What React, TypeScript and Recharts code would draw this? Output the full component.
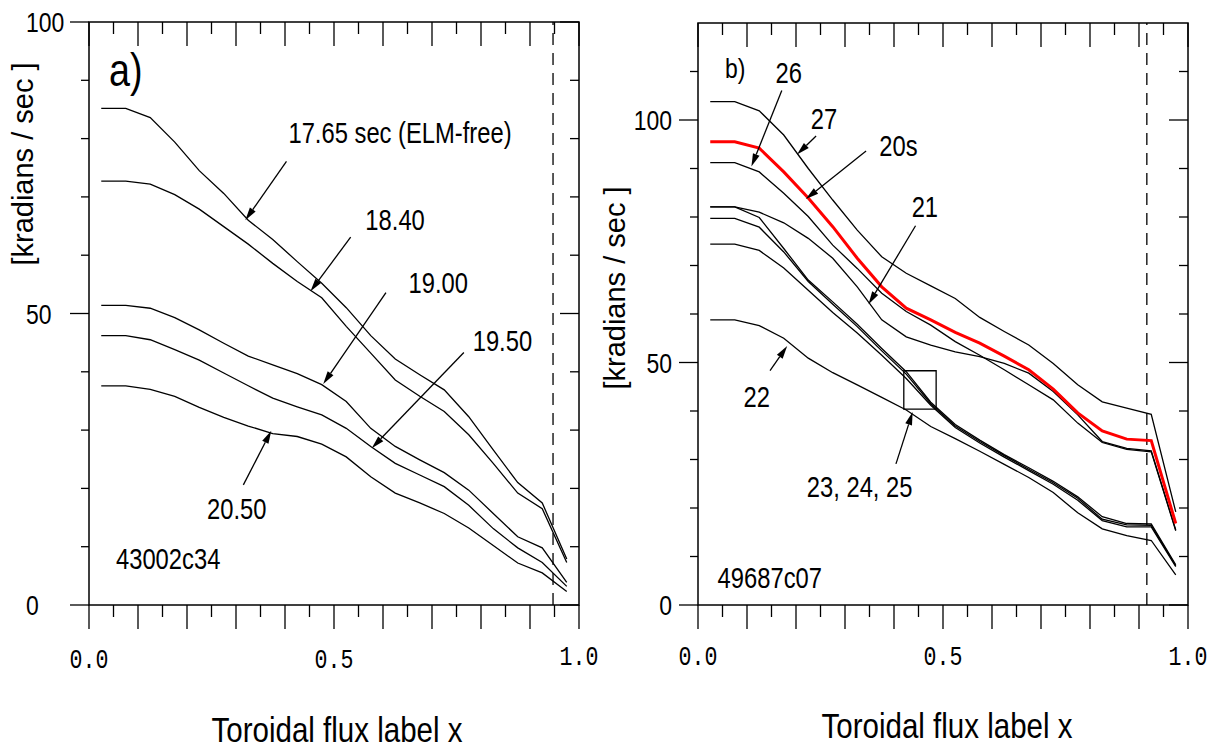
import { LineChart, Line, XAxis, YAxis, ReferenceLine, ReferenceDot, ReferenceArea } from 'recharts'

// toroidal flux label of the profile points
const fluxX = [0.025, 0.075, 0.125, 0.175, 0.225, 0.275, 0.325, 0.375, 0.425, 0.475, 0.525, 0.575, 0.625, 0.675, 0.725, 0.775, 0.825, 0.875, 0.925, 0.975]

// a) shot 43002, rotation in krad/s
const t1765 = [85.2, 85.2, 83.6, 79.4, 74.5, 70.6, 66.0, 62.7, 58.9, 55.2, 51.0, 46.2, 42.2, 39.5, 36.9, 32.3, 26.6, 21.0, 17.5, 7.9]
const t1840 = [72.7, 72.7, 72.2, 70.4, 67.9, 64.9, 61.9, 58.6, 55.5, 52.7, 47.8, 43.2, 38.6, 35.8, 33.2, 29.2, 24.3, 19.2, 16.5, 7.3]
const t1900 = [51.4, 51.4, 50.9, 49.3, 47.2, 44.9, 42.7, 41.2, 39.7, 37.8, 34.9, 30.3, 27.2, 24.9, 22.7, 19.7, 15.7, 11.7, 9.8, 3.9]
const t1950 = [46.2, 46.2, 45.5, 43.8, 42.0, 39.8, 37.6, 35.5, 34.0, 32.6, 30.3, 27.2, 24.3, 22.3, 20.3, 17.1, 13.1, 9.8, 7.3, 3.2]
const t2050 = [37.6, 37.6, 37.0, 35.8, 33.9, 32.2, 30.7, 29.4, 28.9, 27.6, 25.4, 22.0, 19.2, 17.5, 15.7, 13.2, 10.2, 7.2, 5.5, 2.3]

// b) shot 49687
const s27 = [103.8, 103.8, 101.9, 96.9, 90.0, 83.5, 77.3, 71.8, 68.4, 65.8, 63.2, 59.3, 56.4, 53.6, 49.8, 45.4, 41.9, 40.6, 39.3, 19.2]
const s20 = [95.5, 95.5, 94.2, 89.3, 83.9, 78.0, 71.5, 65.6, 61.2, 58.8, 56.2, 54.0, 51.3, 48.5, 44.5, 39.6, 35.9, 34.2, 33.9, 16.8]
const s26 = [91.2, 91.2, 89.3, 84.9, 80.1, 74.2, 69.4, 64.3, 60.5, 57.7, 54.3, 51.5, 48.5, 45.4, 42.3, 37.5, 33.5, 32.1, 31.6, 15.3]
const s21 = [82.1, 82.1, 81.0, 78.8, 75.6, 71.5, 65.6, 58.8, 55.3, 53.6, 52.2, 51.2, 49.8, 47.8, 44.0, 39.2, 33.7, 32.3, 31.8, 15.5]
const s23 = [82.1, 82.1, 79.9, 73.5, 67.0, 62.5, 57.9, 52.9, 48.1, 41.8, 37.2, 34.0, 31.0, 28.3, 25.5, 22.3, 18.2, 16.8, 16.7, 8.3]
const s24 = [79.7, 79.7, 77.9, 72.8, 66.7, 62.0, 57.4, 52.4, 47.6, 41.5, 36.9, 33.7, 30.8, 28.0, 25.2, 22.0, 17.7, 16.5, 16.4, 8.1]
const s25 = [74.4, 74.4, 73.1, 69.5, 64.9, 60.3, 56.1, 51.5, 46.7, 41.2, 36.6, 33.4, 30.5, 27.7, 24.9, 21.6, 17.4, 16.1, 16.1, 7.9]
const s22 = [58.8, 58.8, 57.6, 55.0, 50.9, 47.9, 45.4, 42.8, 40.2, 36.8, 34.3, 31.7, 29.0, 26.3, 23.2, 19.0, 15.7, 14.3, 13.3, 6.2]

const xTicks = [0, 0.05, 0.1, 0.15, 0.2, 0.25, 0.3, 0.35, 0.4, 0.45, 0.5, 0.55, 0.6, 0.65, 0.7, 0.75, 0.8, 0.85, 0.9, 0.95, 1]
const xLabels = [0, 0.5, 1]
const yTicksA = [0, 10, 20, 30, 40, 50, 60, 70, 80, 90, 100]
const yTicksB = [0, 10, 20, 30, 40, 50, 60, 70, 80, 90, 100, 110]
const yLabels = [0, 50, 100]

const edgeA = 0.947
const edgeB = 0.916

const rowsA = fluxX.map((x, i) => ({ x, t1765: t1765[i], t1840: t1840[i], t1900: t1900[i], t1950: t1950[i], t2050: t2050[i] }))
const rowsB = fluxX.map((x, i) => ({ x, s27: s27[i], s20: s20[i], s26: s26[i], s21: s21[i], s23: s23[i], s24: s24[i], s25: s25[i], s22: s22[i] }))

// annotations, in data units
const notesA = [
  { text: 'a)', x: 0.041, y: 89.0, size: 46 },
  { text: '17.65 sec (ELM-free)', x: 0.407, y: 79.2 },
  { text: '18.40', x: 0.564, y: 64.4 },
  { text: '19.00', x: 0.652, y: 53.5 },
  { text: '19.50', x: 0.783, y: 43.5 },
  { text: '20.50', x: 0.241, y: 14.8 },
  { text: '43002c34', x: 0.055, y: 6.2 },
]
const arrowsA = [
  [0.403, 76.1, 0.319, 66.0],
  [0.534, 63.1, 0.452, 53.8],
  [0.606, 53.6, 0.478, 37.9],
  [0.765, 43.3, 0.577, 26.9],
  [0.315, 20.6, 0.372, 29.9],
]
const notesB = [
  { text: 'b)', x: 0.055, y: 108.7, size: 28 },
  { text: '26', x: 0.158, y: 107.7 },
  { text: '27', x: 0.23, y: 98.1 },
  { text: '20s', x: 0.37, y: 92.6 },
  { text: '21', x: 0.436, y: 79.9 },
  { text: '22', x: 0.093, y: 40.8 },
  { text: '23, 24, 25', x: 0.222, y: 22.2 },
  { text: '49687c07', x: 0.04, y: 3.6 },
]
const arrowsB = [
  [0.171, 106.1, 0.109, 90.4],
  [0.241, 96.7, 0.202, 92.9],
  [0.343, 93.6, 0.22, 83.7],
  [0.444, 78.2, 0.348, 62.0],
  [0.147, 48.3, 0.182, 53.4],
  [0.404, 29.1, 0.438, 39.8],
]

const SANS = "'Liberation Sans', Arial, sans-serif"
const MONO = "'Liberation Mono', 'Courier New', monospace"
const INK = '#000'

// Arial Narrow is not installed, so squeeze Liberation Sans
function NText(props: { x: number; y: number; size: number; anchor?: string; dy?: string; children: any }) {
  const { x, y, size, anchor = 'start', dy, children } = props
  return (
    <text transform={`translate(${x},${y}) scale(0.82,1)`} x={0} y={0} dy={dy} textAnchor={anchor} fontFamily={SANS} fontSize={size} fill={INK}>
      {children}
    </text>
  )
}

const near = (a: number, b: number) => Math.abs(a - b) < 1e-6
const isTenth = (v: number) => Math.round(v * 100) % 10 === 0

// vertical reference line -> tick at bottom (outward) and top (inward), plus label
function xTickShape(v: number, lowDy: number) {
  return (p: any) => {
    const x = p.x1
    const top = Math.min(p.y1, p.y2)
    const bot = Math.max(p.y1, p.y2)
    const len = isTenth(v) ? 24 : 12
    const show = xLabels.some((l) => near(l, v))
    const dy = v < 0.99 ? lowDy : 60
    return (
      <g>
        <line x1={x} y1={bot} x2={x} y2={bot + len} stroke={INK} strokeWidth={1.3} />
        <line x1={x} y1={top} x2={x} y2={top + len} stroke={INK} strokeWidth={1.3} />
        {show && (
          <text transform={`translate(${x},${bot + dy}) scale(0.9,1.12)`} textAnchor="middle" fontFamily={MONO} fontSize={24} fill={INK}>
            {v.toFixed(1)}
          </text>
        )}
      </g>
    )
  }
}

// horizontal reference line -> tick at left (outward) and right (inward), plus label
function yTickShape(v: number, labelX: number, anchor: string) {
  return (p: any) => {
    const y = p.y1
    const left = Math.min(p.x1, p.x2)
    const right = Math.max(p.x1, p.x2)
    const major = yLabels.includes(v)
    return (
      <g>
        <line x1={left - (major ? 19 : 8)} y1={y} x2={left} y2={y} stroke={INK} strokeWidth={1.3} />
        <line x1={right - (major ? 19 : 9)} y1={y} x2={right} y2={y} stroke={INK} strokeWidth={1.3} />
        {major && (
          <NText x={labelX} y={y} dy="0.36em" size={28} anchor={anchor}>
            {v}
          </NText>
        )}
      </g>
    )
  }
}

// plot box with the two axis titles
function boxShape(titleX: number, titleY: number, yCx: number, yCy: number) {
  return (p: any) => (
    <g>
      <rect x={p.x} y={p.y} width={p.width} height={p.height} fill="none" stroke={INK} strokeWidth={1.5} />
      <NText x={titleX} y={titleY} size={36} anchor="middle">
        Toroidal flux label x
      </NText>
      <text x={yCx} y={yCy} transform={`rotate(-90, ${yCx}, ${yCy})`} textAnchor="middle" dominantBaseline="central" fontFamily={SANS} fontSize={29} fill={INK}>
        [kradians / sec ]
      </text>
    </g>
  )
}

function Arrow(p: any) {
  const { x1, y1, x2, y2 } = p
  const dx = x2 - x1
  const dy = y2 - y1
  const len = Math.hypot(dx, dy) || 1
  const ux = dx / len
  const uy = dy / len
  const hl = 13
  const hw = 3.5
  const bx = x2 - ux * hl
  const by = y2 - uy * hl
  return (
    <g>
      <line x1={x1} y1={y1} x2={bx} y2={by} stroke={INK} strokeWidth={1.3} />
      <polygon points={`${x2},${y2} ${bx - uy * hw},${by + ux * hw} ${bx + uy * hw},${by - ux * hw}`} fill={INK} />
    </g>
  )
}

function frame(maxY: number, yTicks: number[], labelX: number, anchor: string, lowDy: number, titleX: number, titleY: number, yCx: number, yCy: number) {
  return [
    <XAxis key="xa" dataKey="x" type="number" domain={[0, 1]} allowDataOverflow hide />,
    <YAxis key="ya" type="number" domain={[0, maxY]} allowDataOverflow hide />,
    <ReferenceArea key="box" x1={0} x2={1} y1={0} y2={maxY} ifOverflow="visible" shape={boxShape(titleX, titleY, yCx, yCy)} />,
    ...xTicks.map((v) => <ReferenceLine key={'x' + v} x={v} ifOverflow="visible" shape={xTickShape(v, lowDy)} />),
    ...yTicks.map((v) => <ReferenceLine key={'y' + v} y={v} ifOverflow="visible" shape={yTickShape(v, labelX, anchor)} />),
  ]
}

function notes(list: { text: string; x: number; y: number; size?: number }[]) {
  return list.map((n) => (
    <ReferenceDot
      key={n.text}
      x={n.x}
      y={n.y}
      r={1}
      shape={(p: any) => (
        <NText x={p.cx} y={p.cy} size={n.size ?? 29}>
          {n.text}
        </NText>
      )}
    />
  ))
}

function arrows(list: number[][]) {
  return list.map((a, i) => <ReferenceLine key={'ar' + i} segment={[{ x: a[0], y: a[1] }, { x: a[2], y: a[3] }]} shape={Arrow} />)
}

export default function App() {
  const ln = { type: 'linear' as const, dot: false, stroke: INK, strokeWidth: 1.3, isAnimationActive: false }
  return (
    <div style={{ position: 'absolute', left: 0, top: 0, width: 1219, height: 753, background: '#fff' }}>
      <div style={{ position: 'absolute', left: 0, top: 0 }}>
        <LineChart width={612} height={753} data={rowsA} margin={{ top: 22, right: 33, bottom: 148, left: 89 }}>
          {frame(100, yTicksA, 26, 'start', 63, 337, 742, 23, 164)}
          <ReferenceLine x={edgeA} stroke={INK} strokeWidth={1.3} strokeDasharray="12 8" />
          <Line {...ln} dataKey="t1765" />
          <Line {...ln} dataKey="t1840" />
          <Line {...ln} dataKey="t1900" />
          <Line {...ln} dataKey="t1950" />
          <Line {...ln} dataKey="t2050" />
          {arrows(arrowsA)}
          {notes(notesA)}
        </LineChart>
      </div>
      <div style={{ position: 'absolute', left: 595, top: 0 }}>
        <LineChart width={624} height={753} data={rowsB} margin={{ top: 23, right: 31, bottom: 148, left: 103 }}>
          {frame(120, yTicksB, 77, 'end', 60, 352, 738, 20, 288)}
          <ReferenceLine x={edgeB} stroke={INK} strokeWidth={1.3} strokeDasharray="12 8" />
          <Line {...ln} dataKey="s27" />
          <Line {...ln} dataKey="s26" />
          <Line {...ln} dataKey="s21" />
          <Line {...ln} dataKey="s23" />
          <Line {...ln} dataKey="s24" />
          <Line {...ln} dataKey="s25" />
          <Line {...ln} dataKey="s22" />
          <Line {...ln} dataKey="s20" stroke="#f00" strokeWidth={3} />
          <ReferenceArea x1={0.42} x2={0.486} y1={40.4} y2={48.3} fill="none" fillOpacity={0} stroke={INK} strokeWidth={1.3} />
          {arrows(arrowsB)}
          {notes(notesB)}
        </LineChart>
      </div>
    </div>
  )
}
